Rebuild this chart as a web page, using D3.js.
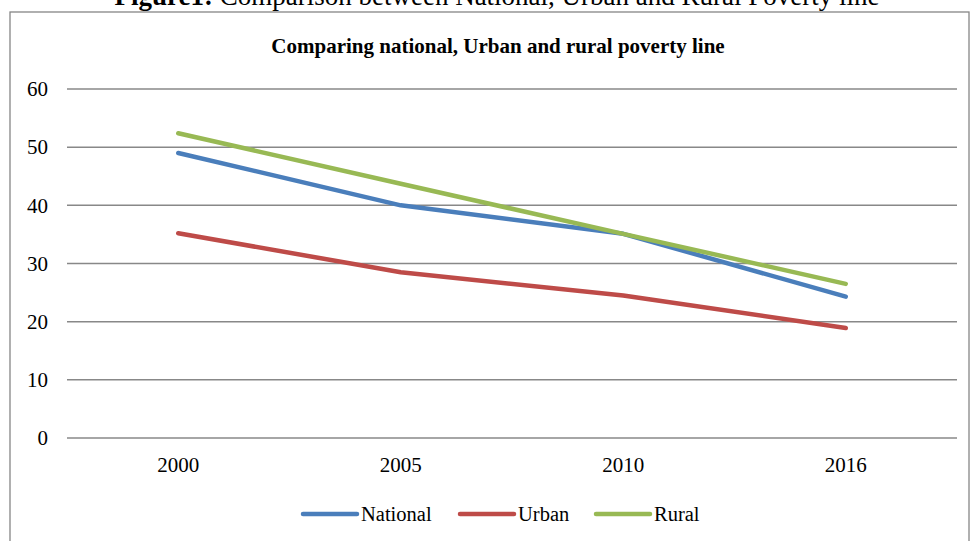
<!DOCTYPE html>
<html>
<head>
<meta charset="utf-8">
<script src="https://cdn.jsdelivr.net/npm/d3@7"></script>
<style>
  body { margin: 0; background: #fff; }
  svg { display: block; font-family: "Liberation Serif", "Times New Roman", serif; }
</style>
</head>
<body>
<div id="chart"></div>
<script>
// data
const years = ["2000", "2005", "2010", "2016"]
const national = [49.0, 40.0, 35.1, 24.3]
const urban = [35.2, 28.5, 24.5, 18.9]
const rural = [52.4, 43.7, 35.1, 26.5]
const yTicks = [0, 10, 20, 30, 40, 50, 60]

const series = [
  {name: "National", values: national, color: "#4a7ebb"},
  {name: "Urban", values: urban, color: "#be4b48"},
  {name: "Rural", values: rural, color: "#98b954"}
]

const width = 973, height = 541
const margin = {top: 89, right: 16, bottom: 103, left: 67}

const svg = d3.select("#chart").append("svg")
  .attr("width", width)
  .attr("height", height)

// caption of the figure, cut at the top of the page like in the scan
const cap = svg.append("text")
  .attr("x", 497).attr("y", 5)
  .attr("text-anchor", "middle")
  .style("font-size", "27px")
cap.append("tspan").style("font-weight", "bold").text("Figure1:")
cap.append("tspan").text(" Comparison between National, Urban and Rural Poverty line")

// chart frame
svg.append("rect")
  .attr("x", 10).attr("y", 12)
  .attr("width", 959).attr("height", 540)
  .attr("fill", "#fff")
  .attr("stroke", "#868686")
  .attr("stroke-width", 1.3)

svg.append("text")
  .attr("x", 498).attr("y", 53)
  .attr("text-anchor", "middle")
  .style("font-size", "21px")
  .style("font-weight", "bold")
  .text("Comparing national, Urban and rural poverty line")

const x = d3.scaleBand()
  .domain(years)
  .range([margin.left, width - margin.right])

const y = d3.scaleLinear()
  .domain([0, 60])
  .range([height - margin.bottom, margin.top])

// gridlines
svg.append("g")
  .selectAll("line")
  .data(yTicks)
  .join("line")
    .attr("x1", margin.left)
    .attr("x2", width - margin.right)
    .attr("y1", d => y(d))
    .attr("y2", d => y(d))
    .attr("stroke", "#888")
    .attr("stroke-width", 1.5)

const yAxis = svg.append("g")
  .attr("transform", `translate(${margin.left},0)`)
  .call(d3.axisLeft(y).tickValues(yTicks).tickSize(0).tickPadding(19))
yAxis.select(".domain").remove()
yAxis.selectAll("text")
  .style("font-size", "21px")
  .style("font-family", "Liberation Serif, serif")
  .attr("fill", "#000")

const xAxis = svg.append("g")
  .attr("transform", `translate(0,${height - margin.bottom})`)
  .call(d3.axisBottom(x).tickSize(0).tickPadding(19))
xAxis.select(".domain").remove()
xAxis.selectAll("text")
  .style("font-size", "21px")
  .style("font-family", "Liberation Serif, serif")
  .attr("fill", "#000")

const line = d3.line()
  .x((d, i) => x(years[i]) + x.bandwidth() / 2)
  .y(d => y(d))

svg.append("g")
  .selectAll("path")
  .data(series)
  .join("path")
    .attr("d", d => line(d.values))
    .attr("fill", "none")
    .attr("stroke", d => d.color)
    .attr("stroke-width", 4.5)
    .attr("stroke-linecap", "round")
    .attr("stroke-linejoin", "round")

// legend
const legendX = [303, 460, 596]
const legend = svg.append("g")
  .selectAll("g")
  .data(series)
  .join("g")
    .attr("transform", (d, i) => `translate(${legendX[i]},514)`)
legend.append("line")
  .attr("x1", 0).attr("x2", 54)
  .attr("stroke", d => d.color)
  .attr("stroke-width", 4.5)
  .attr("stroke-linecap", "round")
legend.append("text")
  .attr("x", 58).attr("y", 7)
  .style("font-size", "20.5px")
  .text(d => d.name)
</script>
</body>
</html>
